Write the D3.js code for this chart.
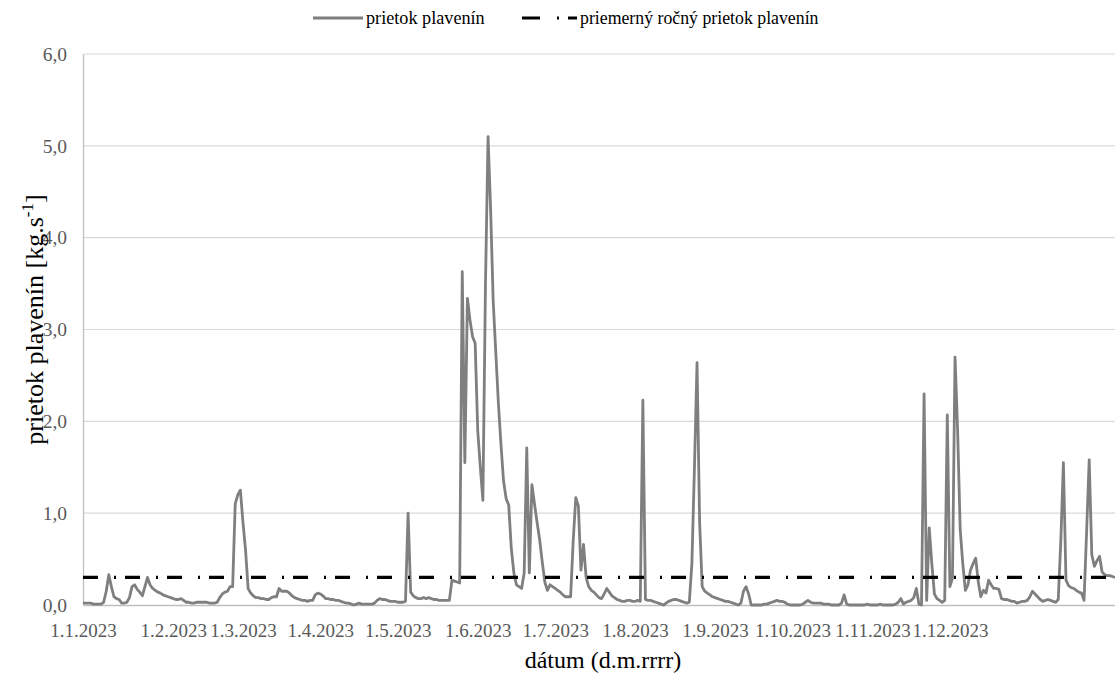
<!DOCTYPE html>
<html>
<head>
<meta charset="utf-8">
<script src="https://cdn.jsdelivr.net/npm/d3@7"></script>
<style>
  body { margin: 0; background: #fff; }
  svg { display: block; }
  text { font-family: "Liberation Serif", "Times New Roman", serif; }
</style>
</head>
<body>
<svg id="chart" width="1115" height="675"></svg>
<script>
// Month tick labels on the date axis
const monthLabels = ["1.1.2023", "1.2.2023", "1.3.2023", "1.4.2023", "1.5.2023", "1.6.2023",
                     "1.7.2023", "1.8.2023", "1.9.2023", "1.10.2023", "1.11.2023", "1.12.2023"];

// Sediment flow [kg.s-1], samples grouped by the month they fall in
const flowJan = [0.02,0.02,0.02,0.02,0.01,0.01,0.01,0.01,0.03,0.15,0.33,0.2,0.09,0.07,0.06,0.02,0.02,0.03,0.08,0.2,0.22,0.17,0.14,0.1,0.2,0.3,0.22,0.18,0.16,0.14,0.13,0.11,0.1,0.09,0.08];
const flowFeb = [0.07,0.06,0.06,0.07,0.05,0.03,0.03,0.02,0.02,0.03,0.03,0.03,0.03,0.03,0.02,0.02,0.02,0.03,0.08,0.12,0.14,0.15,0.2,0.2,1.1,1.2,1.25];
const flowMar = [0.9,0.6,0.18,0.13,0.1,0.08,0.08,0.07,0.07,0.06,0.06,0.08,0.09,0.09,0.18,0.15,0.15,0.15,0.13,0.1,0.08,0.07,0.06,0.05,0.05,0.04,0.05,0.05,0.11,0.13];
const flowApr = [0.12,0.1,0.07,0.07,0.06,0.06,0.05,0.05,0.04,0.03,0.02,0.02,0.01,0.0,0.01,0.02,0.01,0.01,0.01,0.01,0.01,0.02,0.05,0.07,0.06,0.06,0.05,0.04,0.04,0.04];
const flowMay = [0.03,0.03,0.03,0.04,1.0,0.14,0.1,0.08,0.07,0.07,0.08,0.07,0.08,0.07,0.06,0.06,0.05,0.05,0.05,0.05,0.05,0.27,0.26,0.25,0.24,3.63,1.55,3.34,3.1,2.92,2.85];
const flowJun = [1.9,1.5,1.14,3.5,5.1,4.3,3.3,2.75,2.2,1.75,1.35,1.16,1.09,0.62,0.35,0.22,0.2,0.18,0.35,1.71,0.35,1.31,1.1,0.9,0.71,0.47,0.25,0.16,0.22,0.2];
const flowJul = [0.18,0.16,0.14,0.11,0.09,0.09,0.09,0.7,1.17,1.08,0.38,0.66,0.3,0.2,0.16,0.14,0.11,0.08,0.07,0.12,0.18,0.14,0.1,0.08,0.06,0.05,0.04,0.04,0.05,0.05,0.04];
const flowAug = [0.04,0.05,0.04,2.23,0.06,0.05,0.05,0.04,0.03,0.02,0.01,0.0,0.02,0.04,0.05,0.06,0.06,0.05,0.04,0.03,0.02,0.03,0.45,1.5,2.64,0.9,0.2,0.15,0.13,0.11,0.09];
const flowSep = [0.08,0.07,0.06,0.05,0.04,0.04,0.03,0.02,0.01,0.0,0.02,0.15,0.2,0.12,0.0,0.0,0.0,0.0,0.0,0.01,0.01,0.02,0.03,0.04,0.05,0.04,0.04,0.03,0.01,0.0];
const flowOct = [0.0,0.0,0.0,0.0,0.01,0.03,0.05,0.03,0.02,0.02,0.02,0.02,0.01,0.01,0.01,0.0,0.0,0.0,0.0,0.02,0.11,0.01,0.0,0.0,0.0,0.0,0.0,0.0,0.0,0.01,0.0];
const flowNov = [0.0,0.0,0.0,0.01,0.0,0.0,0.0,0.0,0.0,0.01,0.03,0.07,0.01,0.03,0.04,0.05,0.08,0.18,0.01,0.0,2.3,0.05,0.84,0.45,0.12,0.07,0.05,0.03,0.05,2.07];
const flowDec = [0.2,0.29,2.7,1.9,0.82,0.45,0.16,0.22,0.38,0.45,0.51,0.25,0.09,0.16,0.13,0.27,0.22,0.18,0.18,0.17,0.07,0.06,0.06,0.05,0.04,0.04,0.02,0.03,0.04,0.04,0.05,0.09,0.15,0.12,0.09,0.06,0.04,0.05,0.06,0.05,0.04,0.03,0.06,0.7,1.55,0.27,0.21,0.19,0.18,0.16,0.14,0.13,0.05,0.8,1.58,0.55,0.42,0.48,0.53,0.36,0.33,0.32,0.32,0.31,0.3];

// Mean annual sediment flow
const meanFlow = 0.30;

// Value axis ticks
const yTicks = [0, 1, 2, 3, 4, 5, 6];

const seriesName = "prietok plavenín";
const meanName = "priemerný ročný prietok plavenín";
const xTitle = "dátum (d.m.rrrr)";

// ---- assemble ----
const months = [flowJan, flowFeb, flowMar, flowApr, flowMay, flowJun,
                flowJul, flowAug, flowSep, flowOct, flowNov, flowDec];
const flow = months.flat();
const monthStart = [];
months.reduce((acc, m) => { monthStart.push(acc); return acc + m.length; }, 0);

const svg = d3.select("#chart");
const plot = { left: 83, right: 1115, top: 54, bottom: 605 };
const serif = "Liberation Serif, Times New Roman, serif";

const x = d3.scaleLinear().domain([0, flow.length - 1]).range([plot.left, plot.right]);
const y = d3.scaleLinear().domain([0, 6]).range([plot.bottom, plot.top]);

const fmt = v => d3.format(".1f")(v).replace(".", ",");

// gridlines
svg.append("g")
  .selectAll("line")
  .data(yTicks.filter(t => t > 0))
  .join("line")
  .attr("x1", plot.left).attr("x2", plot.right)
  .attr("y1", d => y(d)).attr("y2", d => y(d))
  .attr("stroke", "#d9d9d9").attr("stroke-width", 1.2);

// y axis (labels and axis line)
const yAxis = svg.append("g")
  .attr("transform", `translate(${plot.left},0)`)
  .attr("font-family", serif)
  .call(d3.axisLeft(y).tickValues(yTicks).tickFormat(fmt).tickSize(0).tickPadding(16));
yAxis.select(".domain").attr("stroke", "#bfbfbf").attr("stroke-width", 1.3);
yAxis.selectAll("text").attr("font-size", 19.5).attr("fill", "#595959");

// x axis
const xAxis = svg.append("g")
  .attr("transform", `translate(0,${plot.bottom})`)
  .attr("font-family", serif)
  .call(d3.axisBottom(x).tickValues(monthStart)
        .tickFormat((d, i) => monthLabels[i]).tickSize(0).tickPadding(19));
xAxis.select(".domain").attr("stroke", "#bfbfbf").attr("stroke-width", 1.3);
xAxis.selectAll("text").attr("font-size", 19).attr("fill", "#595959");

// sediment flow series
const line = d3.line().x((d, i) => x(i)).y(d => y(d));
svg.append("path")
  .datum(flow)
  .attr("d", line)
  .attr("fill", "none")
  .attr("stroke", "#7f7f7f")
  .attr("stroke-width", 2.8)
  .attr("stroke-linejoin", "round");

// mean annual flow (dash-dot)
svg.append("line")
  .attr("x1", x(0)).attr("x2", x(flow.length - 1))
  .attr("y1", y(meanFlow)).attr("y2", y(meanFlow))
  .attr("stroke", "#000").attr("stroke-width", 3.2)
  .attr("stroke-dasharray", "15,16,2,9");

// axis titles
svg.append("text")
  .attr("x", (plot.left + plot.right) / 2 + 4).attr("y", 668)
  .attr("text-anchor", "middle")
  .attr("font-size", 24).attr("fill", "#000")
  .text(xTitle);

const yt = svg.append("text")
  .attr("transform", `translate(43,${(plot.top + plot.bottom) / 2 - 10}) rotate(-90)`)
  .attr("text-anchor", "middle")
  .attr("font-size", 26).attr("fill", "#000");
yt.append("tspan").text("prietok plavenín [kg.s");
yt.append("tspan").attr("dy", -10).attr("font-size", 17).text("-1");
yt.append("tspan").attr("dy", 10).text("]");

// legend
const lg = svg.append("g");
const ly = 18;
lg.append("line").attr("x1", 313).attr("x2", 363).attr("y1", ly).attr("y2", ly)
  .attr("stroke", "#7f7f7f").attr("stroke-width", 2.8);
lg.append("text").attr("x", 366).attr("y", ly + 6).attr("font-size", 18.2).attr("fill", "#000").text(seriesName);
lg.append("line").attr("x1", 522).attr("x2", 577).attr("y1", ly).attr("y2", ly)
  .attr("stroke", "#000").attr("stroke-width", 3.2).attr("stroke-dasharray", "18,17,2,9");
lg.append("text").attr("x", 580).attr("y", ly + 6).attr("font-size", 17.8).attr("fill", "#000").text(meanName);
</script>
</body>
</html>
